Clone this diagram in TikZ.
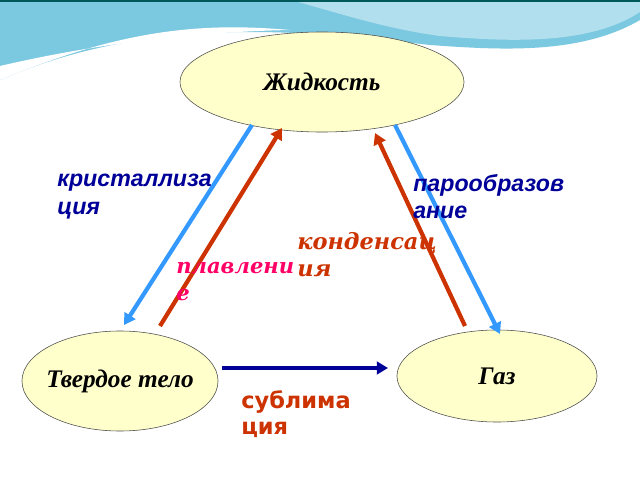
\documentclass[tikz,border=0pt]{standalone}
\usepackage{fontspec}
\setmainfont{Liberation Serif}
\setsansfont{Liberation Sans}
\newfontfamily\djserif{DejaVu Serif}
\newfontfamily\djsans{DejaVu Sans}
\usetikzlibrary{shapes.geometric, arrows.meta}
\definecolor{nodefill}{RGB}{255,255,204}
\definecolor{lblue}{RGB}{51,153,255}
\definecolor{rust}{RGB}{204,51,0}
\definecolor{navy}{RGB}{0,0,153}
\definecolor{pinkred}{RGB}{255,0,102}
\definecolor{wave}{RGB}{100,190,220}
\tikzset{
  state/.style={ellipse, draw=black!70, fill=nodefill, inner sep=0pt,
    font=\fontsize{18}{20}\selectfont\bfseries\itshape},
  arrow/.style={line width=3pt, -{Triangle[length=8pt,width=9pt]}},
  label/.style={anchor=north west, align=left, inner sep=0pt,
    font=\fontsize{16.5}{19.5}\selectfont\sffamily\bfseries\itshape}
}
\begin{document}
\begin{tikzpicture}[x=0.025cm, y=-0.025cm]
\useasboundingbox (0,0) rectangle (640,480);
\fill[white] (0,0) rectangle (640,480);
% wave on top
\fill[wave!85] (0,0) -- (640,0) -- (640,20) .. controls (580,55) and (500,50) .. (430,45)
  .. controls (300,30) and (150,15) .. (0,80) -- cycle;
\fill[wave!50] (290,0) -- (640,0) -- (640,12) .. controls (590,45) and (510,42) .. (440,36)
  .. controls (380,28) and (330,10) .. (290,0) -- cycle;
\fill[white] (0,80) .. controls (120,30) and (200,22) .. (290,30)
  .. controls (190,32) and (90,45) .. (0,66) -- cycle;
\fill[teal!70!black] (0,0) rectangle (640,2);

\node (liquid) [state, minimum width=7.1cm, minimum height=2.5cm] at (322,82) {Жидкость};
\node (solid) [state, inner sep=-9pt, minimum width=4.9cm, minimum height=2.5cm] at (120,381) {Твердое тело};
\node (gas) [state, minimum width=5cm, minimum height=2.3cm] at (497,376) {Газ};

\coordinate (cryA) at (252,125); \coordinate (cryB) at (124,325);
\coordinate (melA) at (160,326); \coordinate (melB) at (282,128);
\coordinate (conA) at (465,326); \coordinate (conB) at (375,133);
\coordinate (vapA) at (395,125); \coordinate (vapB) at (500,334);
\coordinate (subA) at (222,368); \coordinate (subB) at (388,368);

\draw [arrow, lblue] (cryA) -- (cryB);
\draw [arrow, rust] (melA) -- (melB);
\draw [arrow, rust] (conA) -- (conB);
\draw [arrow, lblue] (vapA) -- (vapB);
\draw [arrow, navy] (subA) -- (subB);

\node (crystal) [label, text=navy] at (57,174) {кристаллиза\\ция};
\node (vapour) [label, text=navy] at (413,174) {парообразов\\ание};
\node (condense) [label, text=rust, font=\fontsize{16}{19}\selectfont\djserif\bfseries\itshape] at (297,232) {конденсац\\ия};
\node (melting) [label, text=pinkred, font=\fontsize{15}{19}\selectfont\djserif\bfseries\itshape] at (176,262) {плавлени\\е};
\node (sublim) [label, text=rust, font=\fontsize{16}{19}\selectfont\djsans\bfseries] at (241,390) {сублима\\ция};
\end{tikzpicture}
\end{document}
